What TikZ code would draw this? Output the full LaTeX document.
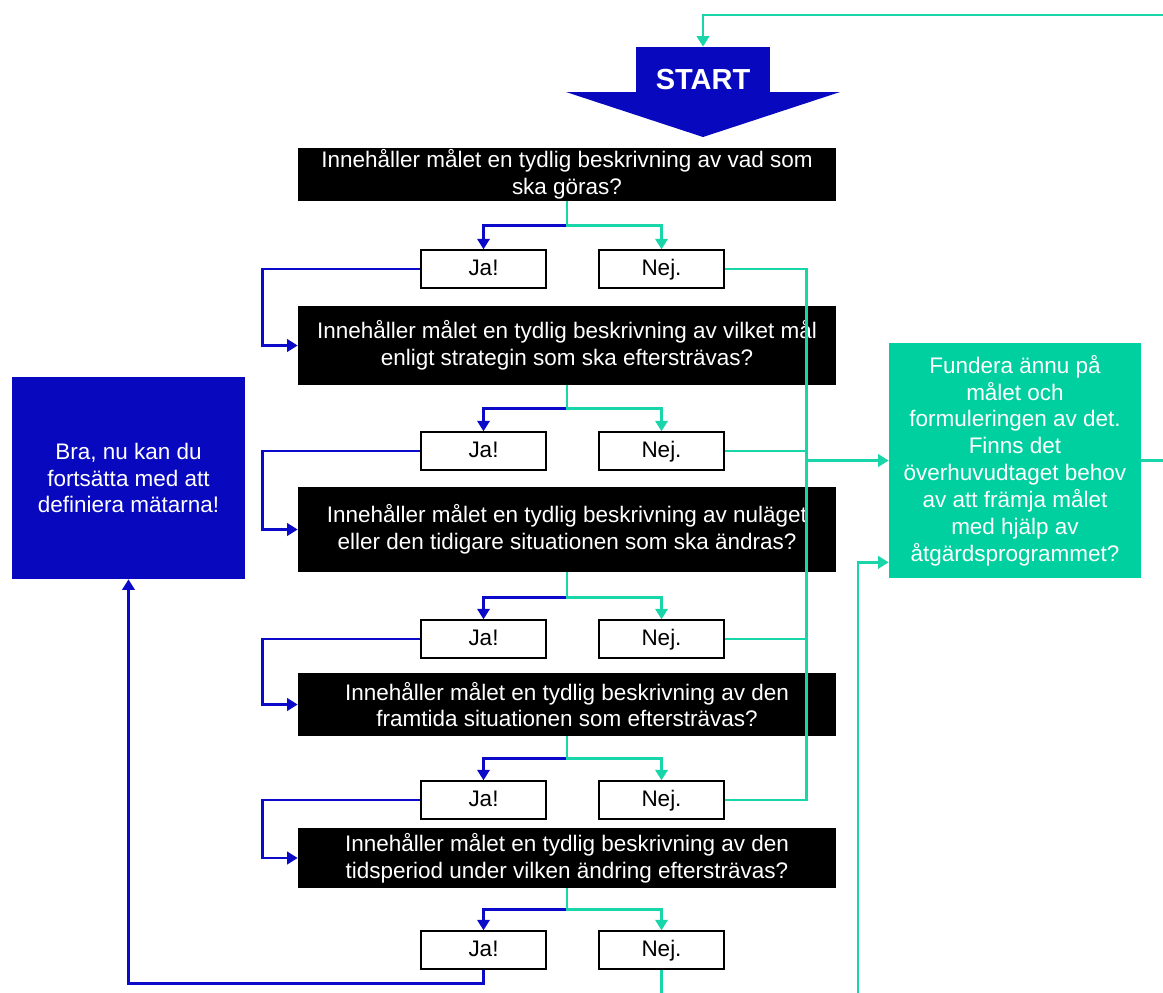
\documentclass[tikz,border=0pt]{standalone}
\usepackage{fontspec}
\setmainfont{Liberation Sans}
\usepackage{xcolor}
\usetikzlibrary{arrows.meta,calc}

\definecolor{startblue}{RGB}{8,8,190}
\definecolor{okblue}{RGB}{10,10,200}
\definecolor{nogreen}{RGB}{0,208,160}
\definecolor{nolinecol}{RGB}{24,214,170}
\newcommand{\qfont}{\fontsize{12.8}{15.3}\selectfont}

\tikzset{
  question/.style={fill=black, text=white, minimum width=10.76cm, inner sep=0pt, align=center},
  answer/.style={draw=black, line width=0.8pt, fill=white, minimum width=2.5cm, minimum height=0.76cm, inner sep=0pt, text height=9pt, text depth=2pt},
  yesline/.style={draw=okblue, line width=1.5pt},
  noline/.style={draw=nolinecol, line width=1.5pt},
  yesarrow/.style={-{Triangle[width=7pt,length=6pt]}},
  noarrow/.style={-{Triangle[width=7pt,length=6pt]}}
}

\begin{document}
\begin{tikzpicture}[x=0.02cm, y=-0.02cm, font=\qfont]
\useasboundingbox (0,0) rectangle (1163,992);
\clip (0,0) rectangle (1163,992);

% start arrow
\node[fill=startblue, minimum width=2.68cm, minimum height=0.9cm, inner sep=0pt] (start) at (703,69.5) {};
\fill[startblue] (566,92) -- (840,92) -- (703,137) -- cycle;
\node[text=white, font=\fontsize{16.5}{18}\selectfont\bfseries] (starttext) at (703,80) {START};

% questions
\node[question, minimum height=1.06cm] (q1) at (567,174.5) {Innehåller målet en tydlig beskrivning av vad som\\ska göras?};
\node[question, minimum height=1.58cm] (q2) at (567,345.5) {Innehåller målet en tydlig beskrivning av vilket mål\\enligt strategin som ska eftersträvas?};
\node[question, minimum height=1.70cm] (q3) at (567,529.5) {Innehåller målet en tydlig beskrivning av nuläget\\eller den tidigare situationen som ska ändras?};
\node[question, minimum height=1.26cm] (q4) at (567,704.5) {Innehåller målet en tydlig beskrivning av den\\framtida situationen som eftersträvas?};
\node[question, minimum height=1.20cm] (q5) at (567,858) {Innehåller målet en tydlig beskrivning av den\\tidsperiod under vilken ändring eftersträvas?};

% answers
\foreach \i/\y in {1/269,2/451,3/639,4/800,5/950} {
  \node[answer] (ja\i) at (483.5,\y) {Ja!};
  \node[answer] (nej\i) at (661.5,\y) {Nej.};
}

% end boxes
\node[fill=startblue, text=white, minimum width=4.66cm, minimum height=4.04cm, inner sep=0pt, align=center] (bra) at (128.5,478) {Bra, nu kan du\\fortsätta med att\\definiera mätarna!};
\node[fill=nogreen, text=white, minimum width=5.04cm, minimum height=4.70cm, inner sep=0pt, align=center] (fund) at (1015,460.5) {Fundera ännu på\\målet och\\formuleringen av det.\\Finns det\\överhuvudtaget behov\\av att främja målet\\med hjälp av\\åtgärdsprogrammet?};

% branches under each question
\foreach \i/\d in {1/24,2/23,3/25,4/22,5/21} {
  \coordinate (b\i) at ($(q\i.south)+(0,\d)$);
  \draw[yesline, yesarrow] (b\i) -| (ja\i.north);
  \draw[noline, noarrow] (q\i.south) -- (b\i) -| (nej\i.north);
}

% yes paths
\draw[yesline, yesarrow] (ja1.west) -- ++(-158,0) |- (q2.west);
\draw[yesline, yesarrow] (ja2.west) -- ++(-158,0) |- (q3.west);
\draw[yesline, yesarrow] (ja3.west) -- ++(-158,0) |- (q4.west);
\draw[yesline, yesarrow] (ja4.west) -- ++(-158,0) |- (q5.west);
\draw[yesline, yesarrow] (ja5.south) -- ++(0,14) -| (bra.south);

% no paths
\draw[noline] (nej1.east) -- ++(82,0) coordinate (c1) -- (c1 |- nej4.east) -- (nej4.east);
\draw[noline] (nej2.east) -- (c1 |- nej2.east);
\draw[noline] (nej3.east) -- (c1 |- nej3.east);
\draw[noline, noarrow] (c1 |- fund.west) -- (fund.west);
\coordinate (nejexit) at (858,1010);
\draw[noline, noarrow] (nej5.south) -- (nej5.south |- nejexit) -- (nejexit) |- ($(fund.south west)+(0,-16)$);

% back to start
\coordinate (loopright) at (1180,15);
\draw[noline, noarrow] (fund.east) -| (loopright) -| (start.north);
\end{tikzpicture}
\end{document}
